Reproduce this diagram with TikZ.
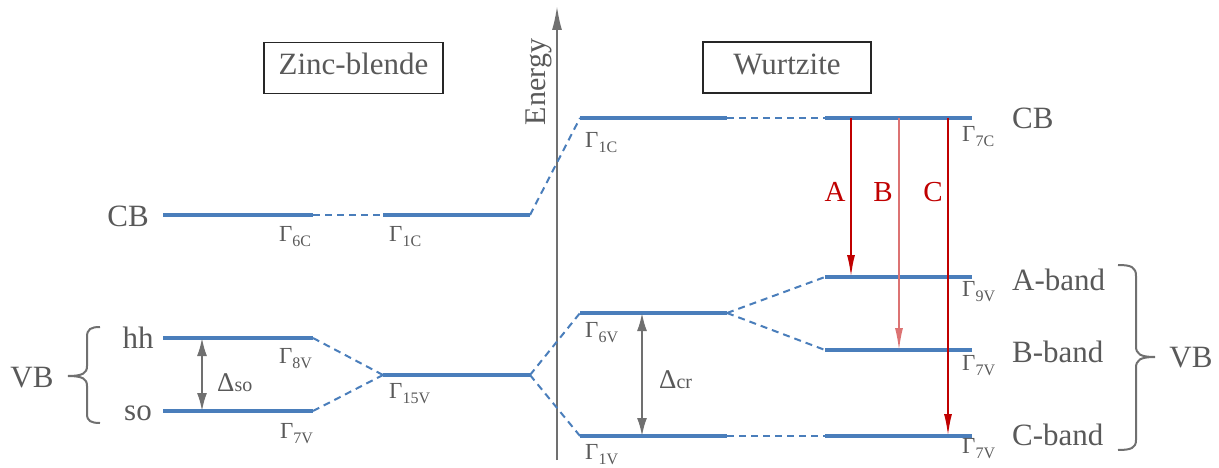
\documentclass[tikz,border=0pt]{standalone}
\usepackage{fontspec}
\setmainfont{Liberation Serif}
\usetikzlibrary{arrows.meta}
\definecolor{lvl}{HTML}{4A7EBB}
\definecolor{txt}{HTML}{595959}
\definecolor{arr}{HTML}{C00000}
\definecolor{gline}{HTML}{707070}
\newcommand{\Gm}[1]{{\fontsize{23}{23}\selectfont Γ\raisebox{-5pt}{\fontsize{16}{16}\selectfont #1}}}
\newcommand{\Dl}[1]{{\fontsize{27}{27}\selectfont Δ{\fontsize{20}{20}\selectfont #1}}}
\begin{document}
\begin{tikzpicture}[x=1pt,y=-1pt,
  level/.style={lvl,line width=4pt},
  link/.style={lvl,line width=2pt,dash pattern=on 7pt off 5pt},
  big/.style={text=txt,font=\fontsize{31}{31}\selectfont,inner sep=0pt},
  gam/.style={text=txt,anchor=base west,inner sep=0pt},
  gap/.style={gline,line width=2pt,{Latex[length=18pt,width=10pt]}-{Latex[length=18pt,width=10pt]}},
  trans/.style={arr,line width=2pt,-{Latex[length=22pt,width=8pt]}},
  lab/.style={text=arr,font=\fontsize{29}{29}\selectfont,inner sep=0pt,anchor=base},
  titlebox/.style={draw=black!85,line width=1.5pt,text=txt,font=\fontsize{31}{31}\selectfont,minimum height=51pt,inner sep=0pt,text height=21pt,text depth=7pt},
  bracestyle/.style={gline,line width=2pt}]
\useasboundingbox (0,0) rectangle (1219,468);
% energy axis
\coordinate (ax0) at (557,460);
\coordinate (ax1) at (557,6);
\draw[gline,line width=2pt,-{Latex[length=24pt,width=10pt]}] (ax0) -- (ax1);
\node[text=txt,font=\fontsize{30}{30}\selectfont,rotate=90,anchor=base,inner sep=0pt] (energy) at (545,82) {Energy};
% title boxes
\node[titlebox,minimum width=179pt] (zb) at (353.5,68) {Zinc-blende};
\node[titlebox,minimum width=168pt] (wz) at (787,67.5) {Wurtzite};
% level coordinates: zinc-blende
\coordinate (cb6a) at (163,215); \coordinate (cb6b) at (313,215);
\coordinate (cb1a) at (383,215); \coordinate (cb1b) at (530,215);
\coordinate (hha) at (163,338); \coordinate (hhb) at (313,338);
\coordinate (soa) at (163,411); \coordinate (sob) at (313,411);
\coordinate (g15a) at (383,375); \coordinate (g15b) at (530,375);
% wurtzite
\coordinate (w1ca) at (580,118); \coordinate (w1cb) at (727,118);
\coordinate (w7ca) at (825,118); \coordinate (w7cb) at (972,118);
\coordinate (w6va) at (580,313); \coordinate (w6vb) at (727,313);
\coordinate (w1va) at (580,436); \coordinate (w1vb) at (727,436);
\coordinate (w9va) at (825,277); \coordinate (w9vb) at (972,277);
\coordinate (w7va) at (825,350); \coordinate (w7vb) at (972,350);
\coordinate (w7xa) at (825,436); \coordinate (w7xb) at (972,436);
% connecting dashed lines
\draw[link] (cb6b) -- (cb1a);
\draw[link] (cb1b) -- (w1ca);
\draw[link] (hhb) -- (g15a);
\draw[link] (sob) -- (g15a);
\draw[link] (g15b) -- (w6va);
\draw[link] (g15b) -- (w1va);
\draw[link] (w1cb) -- (w7ca);
\draw[link] (w6vb) -- (w9va);
\draw[link] (w6vb) -- (w7va);
\draw[link] (w1vb) -- (w7xa);
% levels
\foreach \a/\b in {cb6a/cb6b,cb1a/cb1b,hha/hhb,soa/sob,g15a/g15b,w1ca/w1cb,w7ca/w7cb,w6va/w6vb,w1va/w1vb,w9va/w9vb,w7va/w7vb,w7xa/w7xb}
  \draw[level] (\a) -- (\b);
% gamma labels
\node[gam] (l6c) at (279,241) {\Gm{6C}};
\node[gam] (l1c) at (389,241) {\Gm{1C}};
\node[gam] (l8v) at (279,363) {\Gm{8V}};
\node[gam] (l7v) at (280,438) {\Gm{7V}};
\node[gam] (l15v) at (389,398) {\Gm{15V}};
\node[gam] (lw1c) at (585,148) {\Gm{1C}};
\node[gam] (lw6v) at (585,337) {\Gm{6V}};
\node[gam] (lw1v) at (585,459) {\Gm{1V}};
\node[gam] (lw7c) at (962,142) {\Gm{7C}};
\node[gam] (lw9v) at (962,296) {\Gm{9V}};
\node[gam] (lw7v) at (962,370) {\Gm{7V}};
\node[gam] (lw7x) at (962,453) {\Gm{7V}};
% big labels
\node[big,anchor=base] (cbl) at (128,226) {CB};
\node[big,anchor=base] (hh) at (138,348) {hh};
\node[big,anchor=base] (so) at (138,420) {so};
\node[big,anchor=base] (vbl) at (32,387) {VB};
\node[big,anchor=base west] (cbr) at (1012,129) {CB};
\node[big,anchor=base west] (ab) at (1012,290) {A-band};
\node[big,anchor=base west] (bb) at (1012,362) {B-band};
\node[big,anchor=base west] (cband) at (1012,445) {C-band};
\node[big,anchor=base] (vbr) at (1191,367) {VB};
% gaps
\coordinate (dso1) at (202,338); \coordinate (dso2) at (202,411);
\draw[gap] (dso1) -- (dso2);
\node[text=txt,anchor=base west,inner sep=0pt] (dso) at (217,391) {\Dl{so}};
\coordinate (dcr1) at (642,313); \coordinate (dcr2) at (642,436);
\draw[gap] (dcr1) -- (dcr2);
\node[text=txt,anchor=base west,inner sep=0pt] (dcr) at (659,388) {\Dl{cr}};
% transitions
\coordinate (ta0) at (851,118); \coordinate (ta1) at (851,277);
\coordinate (tb0) at (899,118); \coordinate (tb1) at (899,350);
\coordinate (tc0) at (948,118); \coordinate (tc1) at (948,436);
\draw[trans] (ta0) -- (ta1);
\draw[trans,arr!55,line width=1.5pt] (tb0) -- (tb1);
\draw[trans] (tc0) -- (tc1);
\node[lab] (la) at (835,202) {A};
\node[lab] (lb) at (883,202) {B};
\node[lab] (lc) at (933,202) {C};
% braces
\draw[bracestyle] (100,327) .. controls (91,327) and (87,329) .. (87,337) -- (87,366)
  .. controls (87,373) and (83,376) .. (68,376)
  .. controls (83,376) and (87,379) .. (87,386) -- (87,414)
  .. controls (87,421) and (91,423) .. (100,423);
\draw[bracestyle] (1118,265) .. controls (1131,265) and (1136,267) .. (1136,276) -- (1136,346)
  .. controls (1136,354) and (1140,357) .. (1155,357)
  .. controls (1140,357) and (1136,360) .. (1136,368) -- (1136,440)
  .. controls (1136,448) and (1131,450) .. (1118,450);
\end{tikzpicture}
\end{document}
